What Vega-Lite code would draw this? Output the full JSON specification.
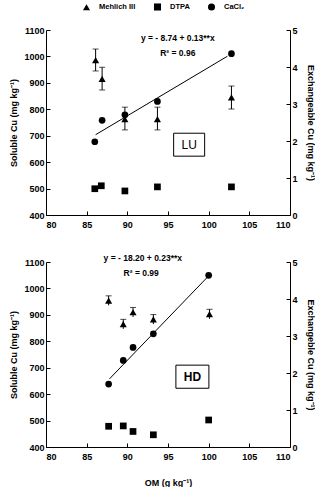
{
  "$schema": "https://vega.github.io/schema/vega-lite/v6.json",
  "padding": {"left": 9, "top": 2, "right": 0, "bottom": 0},
  "datasets": {
    "mehlich": [
      {"site": "LU", "om": 86.1, "cu": 986, "lo": 945, "hi": 1028, "series": "Mehlich III"},
      {"site": "LU", "om": 86.9, "cu": 915, "lo": 873, "hi": 959, "series": "Mehlich III"},
      {"site": "LU", "om": 89.7, "cu": 763, "lo": 722, "hi": 808, "series": "Mehlich III"},
      {"site": "LU", "om": 93.7, "cu": 763, "lo": 722, "hi": 808, "series": "Mehlich III"},
      {"site": "LU", "om": 102.8, "cu": 845, "lo": 801, "hi": 888, "series": "Mehlich III"},
      {"site": "HD", "om": 87.7, "cu": 954, "lo": 936, "hi": 972, "series": "Mehlich III"},
      {"site": "HD", "om": 89.5, "cu": 865, "lo": 847, "hi": 883, "series": "Mehlich III"},
      {"site": "HD", "om": 90.7, "cu": 910, "lo": 892, "hi": 928, "series": "Mehlich III"},
      {"site": "HD", "om": 93.2, "cu": 883, "lo": 865, "hi": 901, "series": "Mehlich III"},
      {"site": "HD", "om": 100.1, "cu": 903, "lo": 885, "hi": 921, "series": "Mehlich III"}
    ],
    "exch": [
      {"site": "LU", "om": 86.0, "ex": 0.71, "series": "DTPA"},
      {"site": "LU", "om": 86.8, "ex": 0.79, "series": "DTPA"},
      {"site": "LU", "om": 89.7, "ex": 0.65, "series": "DTPA"},
      {"site": "LU", "om": 93.7, "ex": 0.76, "series": "DTPA"},
      {"site": "LU", "om": 102.8, "ex": 0.76, "series": "DTPA"},
      {"site": "LU", "om": 86.0, "ex": 1.98, "series": "CaCl₂"},
      {"site": "LU", "om": 86.9, "ex": 2.56, "series": "CaCl₂"},
      {"site": "LU", "om": 89.7, "ex": 2.71, "series": "CaCl₂"},
      {"site": "LU", "om": 93.7, "ex": 3.07, "series": "CaCl₂"},
      {"site": "LU", "om": 102.8, "ex": 4.36, "series": "CaCl₂"},
      {"site": "HD", "om": 87.7, "ex": 0.56, "series": "DTPA"},
      {"site": "HD", "om": 89.5, "ex": 0.57, "series": "DTPA"},
      {"site": "HD", "om": 90.7, "ex": 0.42, "series": "DTPA"},
      {"site": "HD", "om": 93.2, "ex": 0.33, "series": "DTPA"},
      {"site": "HD", "om": 100.0, "ex": 0.73, "series": "DTPA"},
      {"site": "HD", "om": 87.7, "ex": 1.70, "series": "CaCl₂"},
      {"site": "HD", "om": 89.5, "ex": 2.34, "series": "CaCl₂"},
      {"site": "HD", "om": 90.7, "ex": 2.69, "series": "CaCl₂"},
      {"site": "HD", "om": 93.2, "ex": 3.06, "series": "CaCl₂"},
      {"site": "HD", "om": 100.0, "ex": 4.64, "series": "CaCl₂"}
    ],
    "fit": [
      {"site": "LU", "om": 86.1, "ex": 2.17},
      {"site": "LU", "om": 102.3, "ex": 4.29},
      {"site": "HD", "om": 87.8, "ex": 1.84},
      {"site": "HD", "om": 99.8, "ex": 4.58}
    ],
    "notes": [
      {"site": "LU", "kind": "eq", "om": 96.2, "cu": 1068, "label": "y = - 8.74 + 0.13**x"},
      {"site": "LU", "kind": "eq", "om": 96.2, "cu": 1014, "label": "R² = 0.96"},
      {"site": "LU", "kind": "box", "om": 97.6, "cu": 666, "label": "LU"},
      {"site": "HD", "kind": "eq", "om": 91.9, "cu": 1117, "label": "y =  - 18.20 + 0.23**x"},
      {"site": "HD", "kind": "eq", "om": 91.7, "cu": 1060, "label": "R² = 0.99"},
      {"site": "HD", "kind": "box", "om": 98.0, "cu": 666, "label": "HD"}
    ]
  },
  "config": {
    "font": "Liberation Sans",
    "view": {"stroke": null},
    "axis": {
      "grid": false,
      "domainColor": "black",
      "tickColor": "black",
      "labelColor": "black",
      "titleColor": "black",
      "labelFont": "Liberation Sans",
      "titleFont": "Liberation Sans",
      "labelFontSize": 9,
      "labelFontWeight": "bold",
      "titleFontSize": 9,
      "titleFontWeight": "bold",
      "tickSize": -4,
      "labelPadding": 6,
      "domainWidth": 1,
      "tickWidth": 1
    },
    "axisBottom": {"labelPadding": 9},
    "legend": {
      "labelFont": "Liberation Sans",
      "labelFontSize": 7.5,
      "labelFontWeight": "bold",
      "labelColor": "black",
      "symbolFillColor": "black",
      "symbolStrokeColor": "black"
    }
  },
  "spacing": 47,
  "bounds": "flush",
  "resolve": {"scale": {"shape": "shared", "x": "independent"}, "legend": {"shape": "shared"}},
  "vconcat": [
    {
      "width": 244,
      "height": 185,
      "resolve": {"scale": {"y": "independent"}},
      "layer": [
        {
          "encoding": {
            "x": {"type": "quantitative", "scale": {"domain": [80, 110], "zero": false}, "axis": {"values": [80, 85, 90, 95, 100, 105, 110], "title": null}},
            "y": {"type": "quantitative", "scale": {"domain": [400, 1100], "zero": false}, "axis": {"values": [400, 500, 600, 700, 800, 900, 1000, 1100], "format": "d", "title": "Soluble Cu (mg kg⁻¹)", "titlePadding": 5}}
          },
          "layer": [
            {
              "data": {"name": "mehlich"},
              "transform": [{"filter": "datum.site === 'LU'"}],
              "mark": {"type": "rule", "color": "black", "strokeWidth": 1},
              "encoding": {
                "x": {"field": "om"},
                "y": {"field": "lo"},
                "y2": {"field": "hi"}
              }
            },
            {
              "data": {"name": "mehlich"},
              "transform": [{"filter": "datum.site === 'LU'"}],
              "mark": {"type": "tick", "orient": "horizontal", "color": "black", "size": 6, "thickness": 1},
              "encoding": {
                "x": {"field": "om"},
                "y": {"field": "hi"}
              }
            },
            {
              "data": {"name": "mehlich"},
              "transform": [{"filter": "datum.site === 'LU'"}],
              "mark": {"type": "tick", "orient": "horizontal", "color": "black", "size": 6, "thickness": 1},
              "encoding": {
                "x": {"field": "om"},
                "y": {"field": "lo"}
              }
            },
            {
              "data": {"name": "mehlich"},
              "transform": [{"filter": "datum.site === 'LU'"}],
              "mark": {"type": "point", "filled": true, "color": "black", "size": 50, "opacity": 1},
              "encoding": {
                "x": {"field": "om"},
                "y": {"field": "cu"},
                "shape": {"field": "series", "type": "nominal", "scale": {"domain": ["Mehlich III", "DTPA", "CaCl₂"], "range": ["triangle-up", "square", "circle"]},
                  "legend": {"title": null, "orient": "none", "direction": "horizontal", "legendX": 36, "legendY": -28, "symbolSize": 50, "columnPadding": 14, "labelOffset": 8}}
              }
            },
            {
              "data": {"name": "notes"},
              "transform": [{"filter": "datum.site === 'LU' && datum.kind === 'box'"}],
              "mark": {"type": "point", "shape": "M-1,-0.74L1,-0.74L1,0.74L-1,0.74Z", "size": 961, "filled": false, "fill": "white", "stroke": "black", "strokeWidth": 1, "opacity": 1},
              "encoding": {
                "x": {"field": "om"},
                "y": {"field": "cu"}
              }
            },
            {
              "data": {"name": "notes"},
              "transform": [{"filter": "datum.site === 'LU' && datum.kind === 'eq'"}],
              "mark": {"type": "text", "font": "Liberation Sans", "fontWeight": "bold", "fontSize": 8.5, "color": "black"},
              "encoding": {
                "x": {"field": "om"},
                "y": {"field": "cu"},
                "text": {"field": "label"}
              }
            },
            {
              "data": {"name": "notes"},
              "transform": [{"filter": "datum.site === 'LU' && datum.kind === 'box'"}],
              "mark": {"type": "text", "font": "Liberation Sans", "fontWeight": "normal", "fontSize": 12, "color": "black"},
              "encoding": {
                "x": {"field": "om"},
                "y": {"field": "cu"},
                "text": {"field": "label"}
              }
            }
          ]
        },
        {
          "encoding": {
            "x": {"type": "quantitative", "scale": {"domain": [80, 110], "zero": false}},
            "y": {"type": "quantitative", "scale": {"domain": [0, 5]}, "axis": {"values": [0, 1, 2, 3, 4, 5], "title": "Exchangeable Cu (mg kg⁻¹)", "orient": "right", "titlePadding": 8}}
          },
          "layer": [
            {
              "data": {"name": "fit"},
              "transform": [{"filter": "datum.site === 'LU'"}],
              "mark": {"type": "line", "color": "black", "strokeWidth": 1},
              "encoding": {
                "x": {"field": "om"},
                "y": {"field": "ex"}
              }
            },
            {
              "data": {"name": "exch"},
              "transform": [{"filter": "datum.site === 'LU'"}],
              "mark": {"type": "point", "filled": true, "color": "black", "size": 45, "opacity": 1},
              "encoding": {
                "x": {"field": "om"},
                "y": {"field": "ex"},
                "shape": {"field": "series", "type": "nominal"}
              }
            }
          ]
        }
      ]
    },
    {
      "width": 244,
      "height": 185,
      "resolve": {"scale": {"y": "independent"}},
      "layer": [
        {
          "encoding": {
            "x": {"type": "quantitative", "scale": {"domain": [80, 110], "zero": false}, "axis": {"values": [80, 85, 90, 95, 100, 105, 110], "title": "OM (g kg⁻¹)", "titlePadding": 17}},
            "y": {"type": "quantitative", "scale": {"domain": [400, 1100], "zero": false}, "axis": {"values": [400, 500, 600, 700, 800, 900, 1000, 1100], "format": "d", "title": "Soluble Cu (mg kg⁻¹)", "titlePadding": 5}}
          },
          "layer": [
            {
              "data": {"name": "mehlich"},
              "transform": [{"filter": "datum.site === 'HD'"}],
              "mark": {"type": "rule", "color": "black", "strokeWidth": 1},
              "encoding": {
                "x": {"field": "om"},
                "y": {"field": "lo"},
                "y2": {"field": "hi"}
              }
            },
            {
              "data": {"name": "mehlich"},
              "transform": [{"filter": "datum.site === 'HD'"}],
              "mark": {"type": "tick", "orient": "horizontal", "color": "black", "size": 6, "thickness": 1},
              "encoding": {
                "x": {"field": "om"},
                "y": {"field": "hi"}
              }
            },
            {
              "data": {"name": "mehlich"},
              "transform": [{"filter": "datum.site === 'HD'"}],
              "mark": {"type": "point", "filled": true, "color": "black", "size": 50, "opacity": 1},
              "encoding": {
                "x": {"field": "om"},
                "y": {"field": "cu"},
                "shape": {"field": "series", "type": "nominal"}
              }
            },
            {
              "data": {"name": "notes"},
              "transform": [{"filter": "datum.site === 'HD' && datum.kind === 'box'"}],
              "mark": {"type": "point", "shape": "M-1,-0.70L1,-0.70L1,0.70L-1,0.70Z", "size": 1089, "filled": false, "fill": "white", "stroke": "black", "strokeWidth": 1, "opacity": 1},
              "encoding": {
                "x": {"field": "om"},
                "y": {"field": "cu"}
              }
            },
            {
              "data": {"name": "notes"},
              "transform": [{"filter": "datum.site === 'HD' && datum.kind === 'eq'"}],
              "mark": {"type": "text", "font": "Liberation Sans", "fontWeight": "bold", "fontSize": 8.5, "color": "black"},
              "encoding": {
                "x": {"field": "om"},
                "y": {"field": "cu"},
                "text": {"field": "label"}
              }
            },
            {
              "data": {"name": "notes"},
              "transform": [{"filter": "datum.site === 'HD' && datum.kind === 'box'"}],
              "mark": {"type": "text", "font": "Liberation Sans", "fontWeight": "bold", "fontSize": 12, "color": "black"},
              "encoding": {
                "x": {"field": "om"},
                "y": {"field": "cu"},
                "text": {"field": "label"}
              }
            }
          ]
        },
        {
          "encoding": {
            "x": {"type": "quantitative", "scale": {"domain": [80, 110], "zero": false}},
            "y": {"type": "quantitative", "scale": {"domain": [0, 5]}, "axis": {"values": [0, 1, 2, 3, 4, 5], "title": "Exchangeble Cu (mg kg⁻¹)", "orient": "right", "titlePadding": 8}}
          },
          "layer": [
            {
              "data": {"name": "fit"},
              "transform": [{"filter": "datum.site === 'HD'"}],
              "mark": {"type": "line", "color": "black", "strokeWidth": 1},
              "encoding": {
                "x": {"field": "om"},
                "y": {"field": "ex"}
              }
            },
            {
              "data": {"name": "exch"},
              "transform": [{"filter": "datum.site === 'HD'"}],
              "mark": {"type": "point", "filled": true, "color": "black", "size": 45, "opacity": 1},
              "encoding": {
                "x": {"field": "om"},
                "y": {"field": "ex"},
                "shape": {"field": "series", "type": "nominal"}
              }
            }
          ]
        }
      ]
    }
  ]
}
